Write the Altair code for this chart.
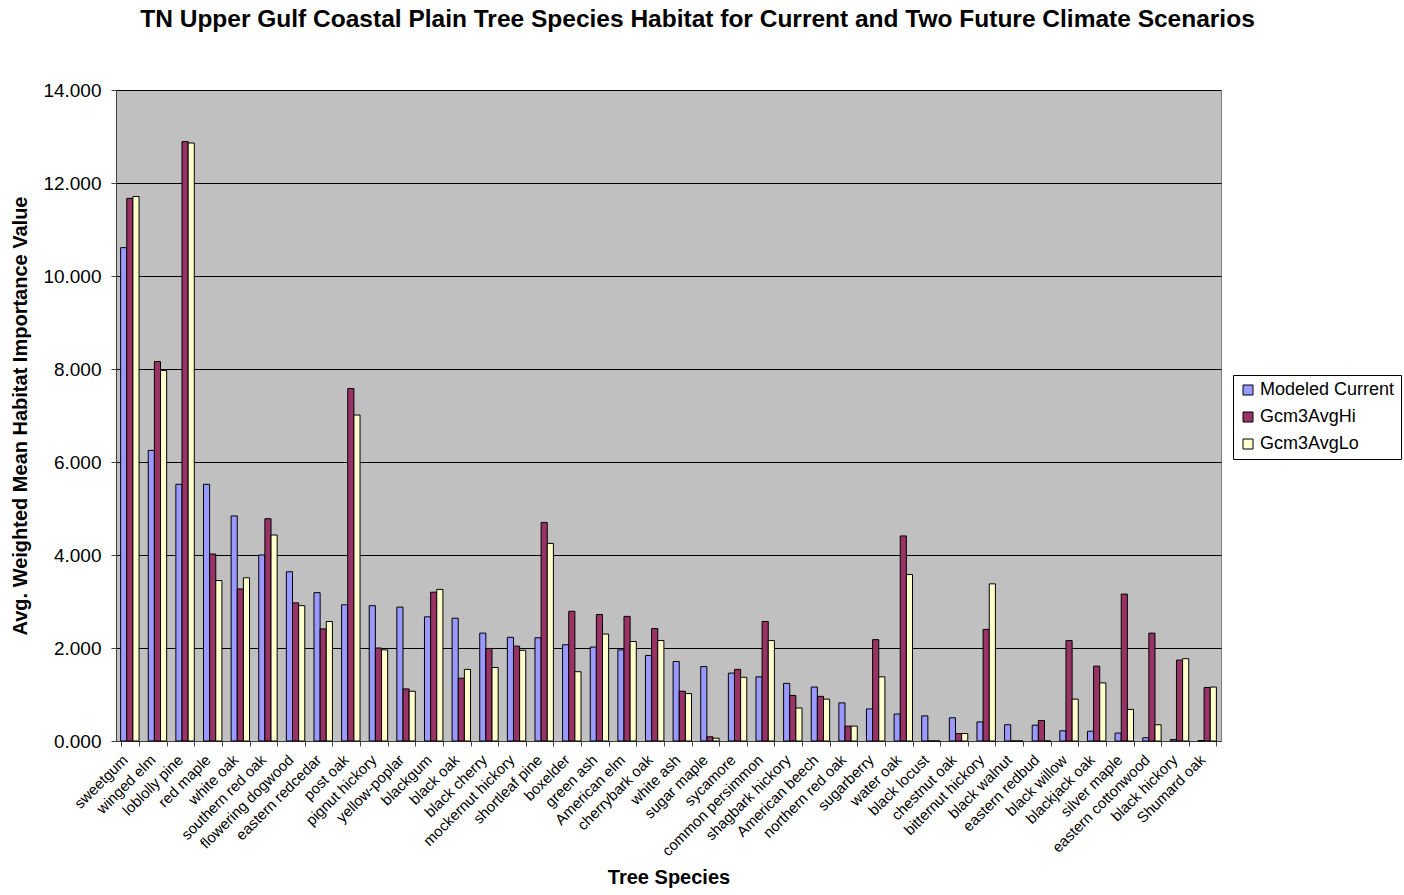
import altair as alt
import pandas as pd

species = ["sweetgum", "winged elm", "loblolly pine", "red maple", "white oak",
           "southern red oak", "flowering dogwood", "eastern redcedar", "post oak",
           "pignut hickory", "yellow-poplar", "blackgum", "black oak", "black cherry",
           "mockernut hickory", "shortleaf pine", "boxelder", "green ash", "American elm",
           "cherrybark oak", "white ash", "sugar maple", "sycamore", "common persimmon",
           "shagbark hickory", "American beech", "northern red oak", "sugarberry",
           "water oak", "black locust", "chestnut oak", "bitternut hickory",
           "black walnut", "eastern redbud", "black willow", "blackjack oak",
           "silver maple", "eastern cottonwood", "black hickory", "Shumard oak"]

modeled_current = [10.61, 6.25, 5.52, 5.52, 4.84, 4.00, 3.64, 3.19, 2.93, 2.91,
                   2.88, 2.67, 2.64, 2.32, 2.23, 2.22, 2.07, 2.02, 1.96, 1.84,
                   1.71, 1.60, 1.46, 1.38, 1.24, 1.16, 0.82, 0.69, 0.58, 0.54,
                   0.50, 0.41, 0.35, 0.34, 0.22, 0.21, 0.17, 0.07, 0.03, 0.01]
gcm3_hi = [11.67, 8.16, 12.89, 4.02, 3.27, 4.78, 2.97, 2.41, 7.58, 2.00,
           1.12, 3.20, 1.35, 1.99, 2.04, 4.70, 2.79, 2.72, 2.68, 2.42,
           1.07, 0.09, 1.54, 2.57, 0.98, 0.96, 0.32, 2.18, 4.41, 0.0,
           0.16, 2.40, 0.0, 0.44, 2.16, 1.61, 3.16, 2.32, 1.74, 1.15]
gcm3_lo = [11.71, 7.97, 12.86, 3.45, 3.51, 4.43, 2.91, 2.57, 7.01, 1.96,
           1.07, 3.26, 1.54, 1.58, 1.95, 4.25, 1.49, 2.30, 2.14, 2.16,
           1.02, 0.06, 1.37, 2.16, 0.71, 0.90, 0.32, 1.38, 3.58, 0.0,
           0.16, 3.38, 0.0, 0.0, 0.90, 1.25, 0.68, 0.35, 1.77, 1.16]

series = ["Modeled Current", "Gcm3AvgHi", "Gcm3AvgLo"]
colors = ["#9999FF", "#993366", "#FFFFCC"]

rows = []
for i, sp in enumerate(species):
    for s, vals in zip(series, [modeled_current, gcm3_hi, gcm3_lo]):
        rows.append({"species": sp, "series": s, "value": vals[i]})
df = pd.DataFrame(rows)

FONT = "Liberation Sans"

chart = alt.Chart(df).mark_bar(stroke="black", strokeWidth=1).encode(
    x=alt.X("species:N", sort=species,
            scale=alt.Scale(paddingInner=0.333, paddingOuter=0.167),
            axis=alt.Axis(title="Tree Species", labelAngle=-45, labelAlign="right",
                          labelBaseline="middle", labelFontSize=15, labelFont=FONT,
                          labelColor="black", labelPadding=11, labelOffset=-5,
                          tickBand="extent", tickSize=5, tickColor="#404040",
                          domainColor="#404040",
                          titleFont=FONT, titleFontSize=20, titleFontWeight="bold",
                          titleColor="black", titleY=136, titleBaseline="middle")),
    xOffset=alt.XOffset("series:N", sort=series,
                        scale=alt.Scale(paddingInner=0, paddingOuter=0)),
    y=alt.Y("value:Q",
            scale=alt.Scale(domain=[0, 14], nice=False),
            axis=alt.Axis(title="Avg. Weighted Mean Habitat Importance Value",
                          values=[0, 2, 4, 6, 8, 10, 12, 14], format=".3f",
                          labelFontSize=19, labelFont=FONT, labelColor="black",
                          labelPadding=10,
                          tickSize=5, tickColor="#404040", domainColor="#404040",
                          grid=True, gridColor="black", gridWidth=1,
                          titleFont=FONT, titleFontSize=20, titleFontWeight="bold",
                          titleColor="black", titlePadding=12)),
    color=alt.Color("series:N", sort=series,
                    scale=alt.Scale(domain=series, range=colors),
                    legend=alt.Legend(title=None, orient="none", legendX=1117, legendY=285,
                                      symbolType="square", symbolSize=100,
                                      symbolStrokeColor="black", symbolStrokeWidth=1,
                                      symbolOpacity=1, labelOffset=3,
                                      labelFont=FONT, labelFontSize=18, labelColor="black",
                                      rowPadding=9, padding=6, strokeColor="black",
                                      fillColor="white")),
).properties(
    width=1105, height=651,
    title=alt.TitleParams("TN Upper Gulf Coastal Plain Tree Species Habitat for Current and Two Future Climate Scenarios",
                          font=FONT, fontSize=24.5, fontWeight="bold", color="black",
                          anchor="middle", dx=29, offset=49),
    autosize=alt.AutoSizeParams(type="none"),
    padding={"left": 116, "top": 90, "right": 183, "bottom": 154},
    background="white",
).configure_view(fill="#C0C0C0", stroke="#808080", strokeWidth=1)

chart.save("out.html", embed_options={"renderer": "svg", "actions": False})
